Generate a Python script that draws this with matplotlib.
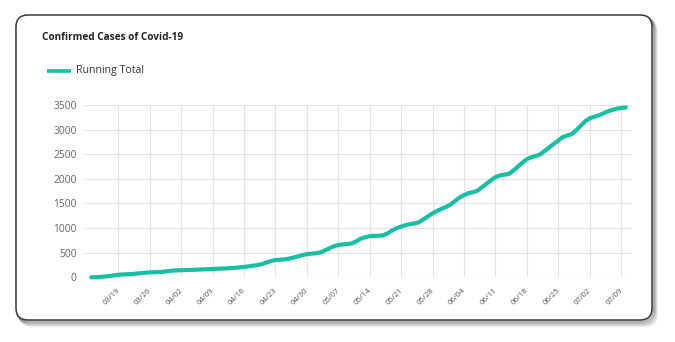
import matplotlib
matplotlib.use('Agg')
import matplotlib.pyplot as plt
import matplotlib.transforms as mtrans
from matplotlib.patches import FancyBboxPatch
import pandas as pd

# ---------------- data ----------------
dates = [d.strftime('%m/%d') for d in pd.date_range('2020-03-13', '2020-07-10', freq='D')]
running_total = [
    0, 3, 8, 15, 25, 40, 52,
    58, 62, 66, 75, 85, 92, 100,
    104, 108, 112, 125, 135, 140, 145,
    148, 150, 152, 157, 162, 166, 170,
    174, 177, 180, 186, 193, 200, 210,
    222, 235, 248, 268, 300, 330, 350,
    358, 365, 378, 400, 425, 450, 470,
    480, 488, 505, 545, 590, 630, 655,
    668, 675, 690, 730, 785, 815, 835,
    842, 845, 850, 895, 950, 1000, 1030,
    1060, 1080, 1095, 1120, 1180, 1240, 1300,
    1350, 1390, 1430, 1480, 1550, 1620, 1670,
    1710, 1730, 1760, 1830, 1900, 1970, 2035,
    2070, 2085, 2100, 2170, 2250, 2330, 2400,
    2440, 2465, 2500, 2570, 2640, 2710, 2780,
    2850, 2880, 2910, 2990, 3080, 3170, 3230,
    3260, 3290, 3330, 3370, 3400, 3425, 3440,
    3450,
]
tick_labels = ['03/19', '03/26', '04/02', '04/09', '04/16', '04/23', '04/30', '05/07',
               '05/14', '05/21', '05/28', '06/04', '06/11', '06/18', '06/25', '07/02', '07/09']
y_ticks = [0, 500, 1000, 1500, 2000, 2500, 3000, 3500]
title = 'Confirmed Cases of Covid-19'
series_name = 'Running Total'

# ---------------- style ----------------
FONT = ['Open Sans', 'DejaVu Sans']
plt.rcParams['font.family'] = FONT
LINE = '#17c0a4'
GRID = '#e3e3e3'
W, H = 675, 342

fig = plt.figure(figsize=(W / 100, H / 100), dpi=100)
fig.patch.set_facecolor('white')

# background axes in pixel units for the card
bg = fig.add_axes([0, 0, 1, 1], zorder=0)
bg.set_xlim(0, W)
bg.set_ylim(H, 0)
bg.axis('off')
L, T, R, B = 16, 15, 652, 320
for off in [1, 2, 3, 4, 5, 6]:
    bg.add_patch(FancyBboxPatch((L + off * 0.8, T + off), R - L, B - T,
                                boxstyle='round,pad=0,rounding_size=12',
                                facecolor='none', edgecolor='#000000',
                                alpha=0.16 - off * 0.02, lw=2.2))
bg.add_patch(FancyBboxPatch((L, T), R - L, B - T, boxstyle='round,pad=0,rounding_size=12',
                            facecolor='white', edgecolor='#3c3c3c', lw=1.1))

bg.text(42, 37, title, fontsize=7.2, fontweight='bold', color='#222222',
        ha='left', va='center', family=FONT)
bg.plot([47, 71], [70.5, 70.5], color=LINE, lw=2.6, solid_capstyle='butt')
bg.text(76, 70.5, series_name, fontsize=7.6, color='#333333', ha='left', va='center', family=FONT)

# main plot axes
ax_left, ax_right, ax_top, ax_bot = 85, 632, 105, 277.3
ax = fig.add_axes([ax_left / W, 1 - ax_bot / H, (ax_right - ax_left) / W, (ax_bot - ax_top) / H], zorder=1)
ax.patch.set_alpha(0)

x = list(range(len(dates)))
ax.plot(x, running_total, color=LINE, lw=3.0, solid_capstyle='round', solid_joinstyle='round',
        clip_on=False, zorder=3)

tick_pos = [dates.index(t) for t in tick_labels]
ax.set_xticks(tick_pos)
ax.set_xticklabels(tick_labels, rotation=45, ha='right', va='top', fontsize=5.6, color='#555555')
ax.set_yticks(y_ticks)
ax.set_yticklabels([str(v) for v in y_ticks], fontsize=7.4, color='#666666')
ax.set_xlim(-1.4, 120.4)
ax.set_ylim(0, 3500)

ax.grid(True, color=GRID, lw=0.8)
ax.set_axisbelow(True)
for s in ax.spines.values():
    s.set_visible(False)
ax.tick_params(axis='y', length=0, pad=6)
ax.tick_params(axis='x', length=0, pad=7)

offset = mtrans.ScaledTranslation(3 / 100, 0, fig.dpi_scale_trans)
for lbl in ax.get_xticklabels():
    lbl.set_transform(lbl.get_transform() + offset)

fig.savefig('out.png', dpi=100, facecolor='white')
